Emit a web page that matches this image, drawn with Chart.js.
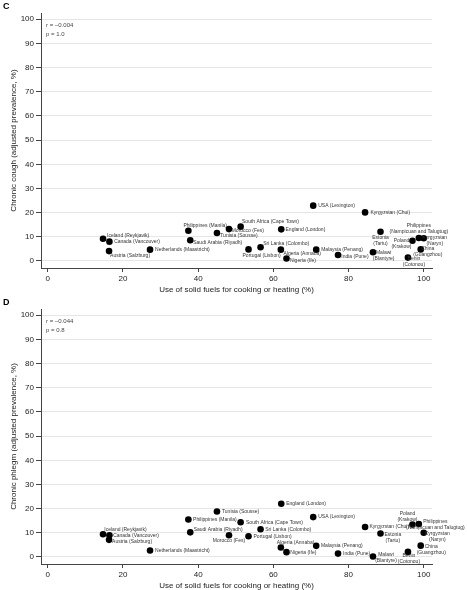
<!DOCTYPE html>
<html>
<head>
<meta charset="utf-8">
<script src="https://cdn.jsdelivr.net/npm/chart.js@4/dist/chart.umd.min.js"></script>
<style>
  html, body { margin: 0; padding: 0; background: #fff; overflow: hidden; }
  .panel { position: absolute; left: 0; width: 467px; height: 295px; }
  #panelC { top: 0; }
  #panelD { top: 296px; }
</style>
</head>
<body>
<div class="panel" id="panelC"><canvas id="coughChart" width="467" height="295"></canvas></div>
<div class="panel" id="panelD"><canvas id="phlegmChart" width="467" height="295"></canvas></div>
<script>
const sites = [
  'Iceland (Reykjavik)', 'Canada (Vancouver)', 'Austria (Salzburg)', 'Netherlands (Maastricht)',
  'Philippines (Manila)', 'Saudi Arabia (Riyadh)', 'Tunisia (Sousse)', 'Morocco (Fes)',
  'South Africa (Cape Town)', 'Portugal (Lisbon)', 'Sri Lanka (Colombo)', 'England (London)',
  'Algeria (Annaba)', 'Nigeria (Ife)', 'USA (Lexington)', 'Malaysia (Penang)', 'India (Pune)',
  'Kyrgyzstan (Chui)', 'Malawi (Blantyre)', 'Estonia (Tartu)', 'Benin (Cotonou)', 'Poland (Krakow)',
  'Philippines (Nampicuan and Talugtug)', 'China (Guangzhou)', 'Kyrgyzstan (Naryn)'
];
const solidFuel = [14.7, 16.4, 16.3, 27.2, 37.4, 37.9, 45.0, 48.2, 51.3, 53.4, 56.6, 62.1, 62.0,
  63.5, 70.6, 71.4, 77.2, 84.4, 86.5, 88.5, 95.8, 97.0, 98.7, 99.2, 100.0];
const cough = [9.2, 8.0, 4.1, 4.7, 12.5, 8.6, 11.6, 13.2, 14.2, 4.8, 5.7, 13.1, 4.7,
  1.0, 22.9, 4.7, 2.5, 20.1, 3.6, 12.1, 1.4, 8.4, 9.5, 4.8, 9.4];
const phlegm = [9.4, 9.0, 7.1, 2.7, 15.5, 10.2, 18.8, 9.0, 14.4, 8.6, 11.5, 22.0, 3.9,
  2.0, 16.5, 4.6, 1.4, 12.4, 0.2, 9.7, 2.1, 13.4, 13.6, 4.7, 10.0];
const xTicks = [0, 20, 40, 60, 80, 100];
const yTicks = [0, 10, 20, 30, 40, 50, 60, 70, 80, 90, 100];
const coughStats = ['r = \u22120.004', 'p = 1.0'];
const phlegmStats = ['r = \u22120.044', 'p = 0.8'];

const FONT = "'Liberation Sans', Arial, Helvetica, sans-serif";

// where each site label sits next to its dot: [dx, dy, anchor, two lines]
const coughLabelPos = [
  [4, -2.7, 'l'], [4.7, 0, 'l'], [1, 5, 'l'], [5, 0, 'l'],
  [-5, -5.4, 'l'], [3, 2.7, 'l'], [3.3, 3, 'l'], [2.7, 1.7, 'l'],
  [1.4, -5, 'l'], [-6, 6.4, 'l'], [2.7, -4, 'l'], [4.3, 0.4, 'l'],
  [2.6, 4.3, 'l'], [3.4, 1.6, 'l'], [5, 0, 'l'], [5, 0, 'l'], [3.3, 1.3, 'l'],
  [5.3, 0, 'l'], [10.7, 0.7, 'c', true], [0, 5.6, 'c', true], [6, 1.5, 'c', true], [-11, 0.3, 'c', true],
  [0, -12.3, 'c', true], [7, -1, 'c', true], [11, -1, 'c', true]
];
const phlegmLabelPos = [
  [1.3, -4.3, 'l'], [3.7, 0.7, 'l'], [3, 1.3, 'l'], [5, 0, 'l'],
  [4.7, 0, 'l'], [3.4, -2.7, 'l'], [5, 0, 'l'], [0, 5, 'c'],
  [5.4, 0, 'l'], [5, 0, 'l'], [4.7, 0, 'l'], [5, 0, 'l'],
  [-4, -5.3, 'l'], [3.7, 0, 'l'], [5, 0, 'l'], [4.7, 0, 'l'], [5, 0, 'l'],
  [4.3, 0, 'l'], [13, -2.3, 'c', true], [4, 1.4, 'l', true], [1, 4, 'c', true], [-5, -11, 'c', true],
  [16.5, -2.7, 'c', true], [10.5, 1, 'c', true], [13.6, 1.3, 'c', true]
];

function splitName(name) {
  const k = name.indexOf(' (');
  return [name.slice(0, k), name.slice(k + 1)];
}

function labelPlugin(labelPos, stats, letter) {
  return {
    id: 'siteLabels',
    afterDatasetsDraw(chart) {
      const ctx = chart.ctx;
      const area = chart.chartArea;
      const pts = chart.getDatasetMeta(0).data;
      ctx.save();
      ctx.fillStyle = '#333';
      ctx.font = `5px ${FONT}`;
      ctx.textBaseline = 'middle';
      ctx.textAlign = 'center';
      pts.forEach((pt, i) => {
        const [dx, dy, anchor, two] = labelPos[i];
        const lines = two ? splitName(sites[i]) : [sites[i]];
        const w = Math.max(...lines.map(l => ctx.measureText(l).width));
        let cx = pt.x + dx;
        if (anchor === 'l') cx += w / 2;
        if (anchor === 'r') cx -= w / 2;
        lines.forEach((l, j) => ctx.fillText(l, cx, pt.y + dy + j * 6));
      });

      ctx.textAlign = 'left';
      ctx.fillStyle = '#444';
      ctx.font = `6px ${FONT}`;
      stats.forEach((s, j) => ctx.fillText(s, area.left + 5, area.top + 12 + j * 9.3));

      ctx.fillStyle = '#000';
      ctx.font = `bold 9px ${FONT}`;
      ctx.fillText(letter, 3, 7);
      ctx.restore();
    }
  };
}

function makeChart(el, values, yTitle, labelPos, stats, letter) {
  return new Chart(el, {
    type: 'scatter',
    data: {
      datasets: [{
        data: solidFuel.map((x, i) => ({ x, y: values[i] })),
        backgroundColor: '#000',
        borderWidth: 0,
        pointRadius: 3.3,
        pointHoverRadius: 3.3,
      }]
    },
    options: {
      responsive: false,
      animation: false,
      layout: { padding: { top: 13, right: 35, left: 0, bottom: 0 } },
      plugins: { legend: { display: false }, tooltip: { enabled: false } },
      scales: {
        x: {
          type: 'linear', min: -1.8, max: 102.2,
          afterBuildTicks: s => { s.ticks = xTicks.map(v => ({ value: v })); },
          afterFit: s => { s.height = 27; },
          grid: { drawOnChartArea: false, tickLength: 4, tickColor: '#444' },
          border: { color: '#444', width: 1 },
          ticks: { color: '#222', font: { family: FONT, size: 8 }, padding: 2, maxRotation: 0 },
          title: {
            display: true, text: 'Use of solid fuels for cooking or heating (%)',
            color: '#222', font: { family: FONT, size: 8 }, padding: { top: 0, bottom: 0 }
          }
        },
        y: {
          type: 'linear', min: -2.9, max: 102.6,
          afterBuildTicks: s => { s.ticks = yTicks.map(v => ({ value: v })); },
          afterFit: s => { s.width = 41; },
          grid: { color: '#e6e6e6', tickLength: 5, tickColor: '#444' },
          border: { color: '#444', width: 1 },
          ticks: { color: '#222', font: { family: FONT, size: 8 }, padding: 2 },
          title: {
            display: true, text: yTitle,
            color: '#222', font: { family: FONT, size: 8 }, padding: { top: 9, bottom: 0 }
          }
        }
      }
    },
    plugins: [labelPlugin(labelPos, stats, letter)]
  });
}

makeChart(document.getElementById('coughChart'), cough,
  'Chronic cough (adjusted prevalence, %)', coughLabelPos, coughStats, 'C');
makeChart(document.getElementById('phlegmChart'), phlegm,
  'Chronic phlegm (adjusted prevalence, %)', phlegmLabelPos, phlegmStats, 'D');
</script>
</body>
</html>
